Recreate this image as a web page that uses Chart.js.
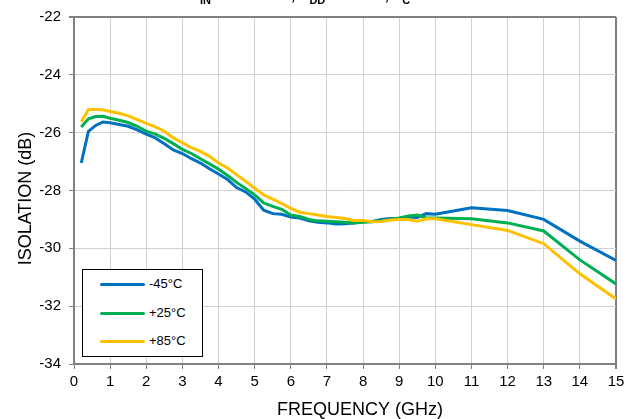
<!DOCTYPE html>
<html>
<head>
<meta charset="utf-8">
<script src="https://cdn.jsdelivr.net/npm/chart.js@4"></script>
<style>
  body { margin: 0; background: #fff; font-family: Arial, "Liberation Sans", sans-serif; }
  #wrap { position: relative; width: 634px; height: 419px; overflow: hidden; }
  #legend { position: absolute; left: 82px; top: 269px; width: 121px; height: 88px; border: 1px solid #000; background: #fff; box-sizing: border-box; }
  .item { position: absolute; left: 17px; font-size: 13px; color: #000; }
  .item span { display: inline-block; width: 45px; height: 3px; margin-right: 4px; vertical-align: middle; border-radius: 2px; }
</style>
</head>
<body>
<div id="wrap">
  <canvas id="c" width="634" height="419"></canvas>
  <div id="legend"></div>
</div>
<script>
// frequency points (GHz)
const freqs = [0.2, 0.4, 0.6, 0.8, 1.0, 1.25, 1.5, 1.75, 2.0, 2.25, 2.5, 2.75, 3.0, 3.25, 3.5, 3.75,
  4.0, 4.25, 4.5, 4.75, 5.0, 5.25, 5.5, 5.75, 6.0, 6.25, 6.5, 6.75, 7.0, 7.25, 7.5, 7.75,
  8.0, 8.25, 8.5, 8.75, 9.0, 9.25, 9.5, 9.75, 10.0, 11, 12, 13, 14, 15];

// isolation (dB)
const isoM45 = [-27.05, -25.95, -25.75, -25.63, -25.66, -25.72, -25.78, -25.9, -26.05, -26.18, -26.38, -26.6, -26.72, -26.9, -27.05, -27.25,
  -27.43, -27.62, -27.9, -28.05, -28.3, -28.68, -28.8, -28.82, -28.92, -28.95, -29.05, -29.1, -29.12, -29.16, -29.15, -29.12,
  -29.08, -29.07, -29.0, -28.97, -28.97, -28.92, -28.93, -28.8, -28.82, -28.6, -28.69, -29.0, -29.75, -30.42];
const isoP25 = [-25.8, -25.52, -25.44, -25.43, -25.5, -25.57, -25.65, -25.78, -25.95, -26.05, -26.2, -26.38, -26.58, -26.72, -26.9, -27.08,
  -27.26, -27.48, -27.72, -27.93, -28.15, -28.43, -28.55, -28.65, -28.85, -28.9, -29.0, -29.05, -29.06, -29.08, -29.1, -29.12,
  -29.1, -29.08, -29.05, -29.0, -28.95, -28.88, -28.85, -28.95, -28.95, -28.98, -29.12, -29.4, -30.4, -31.23];
const isoP85 = [-25.62, -25.2, -25.2, -25.21, -25.27, -25.33, -25.42, -25.55, -25.68, -25.8, -25.95, -26.18, -26.35, -26.52, -26.65, -26.82,
  -27.05, -27.22, -27.45, -27.68, -27.92, -28.15, -28.3, -28.45, -28.62, -28.75, -28.8, -28.85, -28.9, -28.93, -28.97, -29.04,
  -29.04, -29.08, -29.07, -29.02, -29.0, -29.0, -29.06, -28.98, -28.98, -29.18, -29.38, -29.84, -30.88, -31.75];

const seriesLabels = ['-45°C', '+25°C', '+85°C'];
const seriesColors = ['#0070C0', '#00B050', '#FFC000'];
const seriesValues = [isoM45, isoP25, isoP85];

// title is mostly cut off at the top of the picture, only the subscripts show
const titleParts = [['P', 0], ['IN', 1], [' = +10 dBm, V', 0], ['DD', 1], [' = +3.3 V, T', 0], ['C', 1], [' = -45°C to +85°C', 0]];

const FAM = 'Arial, "Liberation Sans", sans-serif';
const font = { family: FAM, size: 15 };

const datasets = seriesValues.map((vals, i) => ({
  label: seriesLabels[i],
  data: freqs.map((f, k) => ({ x: f, y: vals[k] })),
  borderColor: seriesColors[i],
  borderWidth: 3,
  pointRadius: 0,
  tension: 0,
  fill: false,
}));

// yellow at the back, blue in front
datasets.reverse();

const textPlugin = {
  id: 'texts',
  afterDraw(chart) {
    const ctx = chart.ctx;
    const area = chart.chartArea;
    ctx.save();
    ctx.fillStyle = '#000';
    // axis titles
    ctx.font = '18px ' + FAM;
    ctx.textAlign = 'center';
    ctx.textBaseline = 'alphabetic';
    ctx.fillText('FREQUENCY (GHz)', (area.left + area.right) / 2 + 15, 415);
    ctx.save();
    ctx.translate(31, (area.top + area.bottom) / 2 + 8);
    ctx.rotate(-Math.PI / 2);
    ctx.fillText('ISOLATION (dB)', 0, 0);
    ctx.restore();
    // cut-off title
    ctx.textAlign = 'left';
    let x = 190;
    titleParts.forEach(([t, sub]) => {
      ctx.font = 'bold ' + (sub ? 11 : 15) + 'px ' + FAM;
      ctx.fillText(t, x, sub ? 4 : 0);
      x += ctx.measureText(t).width;
    });
    ctx.restore();
  }
};

new Chart(document.getElementById('c'), {
  type: 'line',
  data: { datasets },
  plugins: [textPlugin],
  options: {
    responsive: false,
    animation: false,
    layout: { padding: { top: 14, right: 18, left: 0, bottom: 0 } },
    plugins: { legend: { display: false }, tooltip: { enabled: false } },
    scales: {
      x: {
        type: 'linear', min: 0, max: 15,
        ticks: { stepSize: 1, color: '#000', font, padding: 4, maxRotation: 0 },
        grid: {
          color: (ctx) => ctx.tick && ctx.tick.value === 15 ? '#808080' : '#d0d0d0',
          lineWidth: (ctx) => ctx.tick && ctx.tick.value === 15 ? 2 : 1,
          tickColor: '#808080', tickLength: 5,
        },
        border: { color: '#808080', width: 2 },
        afterFit: (s) => { s.height = 55; },
      },
      y: {
        min: -34, max: -22,
        ticks: { stepSize: 2, color: '#000', font, padding: 8 },
        grid: {
          color: (ctx) => ctx.tick && ctx.tick.value === -22 ? '#808080' : '#d0d0d0',
          lineWidth: (ctx) => ctx.tick && ctx.tick.value === -22 ? 2 : 1,
          tickColor: '#808080', tickLength: 5,
        },
        border: { color: '#808080', width: 2 },
        afterFit: (s) => { s.width = 74; },
      },
    },
  },
});

// legend box inside the plot
const legend = document.getElementById('legend');
seriesLabels.forEach((lab, i) => {
  const d = document.createElement('div');
  d.className = 'item';
  d.style.top = (6 + i * 28.5) + 'px';
  d.innerHTML = '<span style="background:' + seriesColors[i] + '"></span>' + lab;
  legend.appendChild(d);
});
</script>
</body>
</html>
